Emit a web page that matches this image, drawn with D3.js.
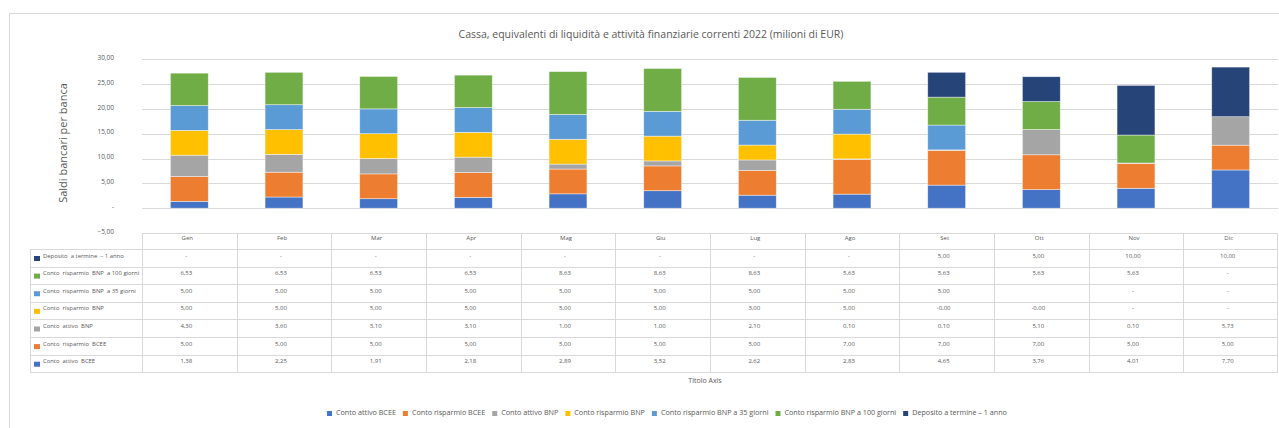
<!DOCTYPE html>
<meta charset="utf-8">
<style>
body { margin: 0; background: #fff; }
svg { font-family: "Open Sans", "Liberation Sans", sans-serif; }
.grid line { stroke: #d9d9d9; shape-rendering: crispEdges; }
.tbl line { stroke: #d9d9d9; shape-rendering: crispEdges; }
</style>
<body>
<script src="https://cdn.jsdelivr.net/npm/d3@7"></script>
<script>
var width = 1279, height = 428;

var months = ["Gen", "Feb", "Mar", "Apr", "Mag", "Giu", "Lug", "Ago", "Set", "Ott", "Nov", "Dic"];

var seriesNames = [
  "Conto attivo BCEE",
  "Conto risparmio BCEE",
  "Conto attivo BNP",
  "Conto risparmio BNP",
  "Conto risparmio BNP a 35 giorni",
  "Conto risparmio BNP a 100 giorni",
  "Deposito a termine \u2013 1 anno"
];
// labels as written in the data table (wider spacing)
var tableNames = [
  "Conto  attivo  BCEE",
  "Conto  risparmio  BCEE",
  "Conto  attivo  BNP",
  "Conto  risparmio  BNP",
  "Conto  risparmio  BNP  a 35 giorni",
  "Conto  risparmio  BNP  a 100 giorni",
  "Deposito  a termine  \u2013 1 anno"
];
var colors = ["#4472c4", "#ed7d31", "#a5a5a5", "#ffc000", "#5b9bd5", "#70ad47", "#264478"];

// null = "-", "" = empty cell, -0 = "-0,00"
var contoAttivoBCEE    = [1.38, 2.25, 1.91, 2.18, 2.89, 3.52, 2.62, 2.83, 4.65, 3.76, 4.01, 7.70];
var contoRisparmioBCEE = [5.00, 5.00, 5.00, 5.00, 5.00, 5.00, 5.00, 7.00, 7.00, 7.00, 5.00, 5.00];
var contoAttivoBNP     = [4.30, 3.60, 3.10, 3.10, 1.00, 1.00, 2.10, 0.10, 0.10, 5.10, 0.10, 5.73];
var contoRisparmioBNP  = [5.00, 5.00, 5.00, 5.00, 5.00, 5.00, 3.00, 5.00, -0, -0, null, null];
var risparmioBNP35     = [5.00, 5.00, 5.00, 5.00, 5.00, 5.00, 5.00, 5.00, 5.00, "", null, null];
var risparmioBNP100    = [6.53, 6.53, 6.53, 6.53, 8.63, 8.63, 8.63, 5.63, 5.63, 5.63, 5.63, null];
var depositoTermine    = [null, null, null, null, null, null, null, null, 5.00, 5.00, 10.00, 10.00];

var seriesValues = [contoAttivoBCEE, contoRisparmioBCEE, contoAttivoBNP, contoRisparmioBNP,
  risparmioBNP35, risparmioBNP100, depositoTermine];

var yTicks = [-5, 0, 5, 10, 15, 20, 25, 30];

var num = function(v) { return typeof v === "number" ? v : 0; };
var fmt = function(v) {
  if (v === "") return "";
  if (v === null) return "-";
  if (Object.is(v, -0)) return "-0,00";
  if (v === 0) return "-";
  return d3.format(".2f")(v).replace(".", ",");
};

var plotLeft = 142, plotRight = 1278;

var y = d3.scaleLinear().domain([-5, 30]).range([233, 59.3]);

var xBand = d3.scaleBand().domain(months).range([plotLeft, plotRight])
  .paddingInner(0.6).paddingOuter(0.3);
var xCol = d3.scaleBand().domain(months).range([plotLeft, plotRight]);

var svg = d3.select("body").append("svg")
  .attr("width", width).attr("height", height);

// chart frame
svg.append("path")
  .attr("d", "M9.5," + height + "V13.5H" + width)
  .attr("fill", "none").attr("stroke", "#d9d9d9");

svg.append("text")
  .attr("x", 651).attr("y", 35)
  .attr("text-anchor", "middle").attr("dominant-baseline", "middle")
  .attr("fill", "#595959").style("font-size", "10.5px")
  .text("Cassa, equivalenti di liquidit\u00e0 e attivit\u00e0 finanziarie correnti 2022 (milioni di EUR)");

// gridlines
svg.append("g").attr("class", "grid")
  .selectAll("line").data(yTicks.filter(function(d) { return d > -5; }))
  .join("line")
  .attr("x1", plotLeft).attr("x2", plotRight)
  .attr("y1", function(d) { return Math.round(y(d)) + 0.5; })
  .attr("y2", function(d) { return Math.round(y(d)) + 0.5; });

// y axis labels
var yAxis = d3.axisLeft(y).tickValues(yTicks).tickSize(0).tickPadding(0)
  .tickFormat(function(d) { return d === 0 ? "-" : d3.format(".2f")(d).replace(".", ","); });
var ya = svg.append("g").attr("transform", "translate(114,-2)").call(yAxis);
ya.select(".domain").remove();
ya.selectAll("text").attr("fill", "#595959").style("font-size", "6.5px")
  .style("font-family", "'Open Sans', sans-serif");

svg.append("text")
  .attr("transform", "translate(64,143) rotate(-90)")
  .attr("text-anchor", "middle").attr("dominant-baseline", "middle")
  .attr("fill", "#595959").style("font-size", "11px")
  .text("Saldi bancari per banca");

// stacked bars
var rows = months.map(function(m, i) {
  var o = { month: m };
  seriesNames.forEach(function(s, k) { o[s] = num(seriesValues[k][i]); });
  return o;
});
var stacked = d3.stack().keys(seriesNames)(rows);

svg.append("g").selectAll("g").data(stacked).join("g")
  .attr("fill", function(d, k) { return colors[k]; })
  .selectAll("rect").data(function(d) { return d; }).join("rect")
  .attr("x", function(d) { return xBand(d.data.month); })
  .attr("width", xBand.bandwidth())
  .attr("y", function(d) { return y(d[1]); })
  .attr("height", function(d) { return Math.max(0, y(d[0]) - y(d[1])); })
  .attr("stroke", "#fff").attr("stroke-opacity", 0.6).attr("stroke-width", 0.7);

// data table
var rowTop = 249, rowH = 17.62, headTop = 233;
var nRows = seriesNames.length;
var tblBottom = rowTop + nRows * rowH;
var tbl = svg.append("g").attr("class", "tbl");

// horizontal lines
tbl.append("line").attr("x1", plotLeft).attr("x2", plotRight)
  .attr("y1", headTop + 0.5).attr("y2", headTop + 0.5);
d3.range(nRows + 1).forEach(function(r) {
  var yy = Math.round(rowTop + r * rowH) + 0.5;
  tbl.append("line").attr("x1", 30).attr("x2", plotRight).attr("y1", yy).attr("y2", yy);
});
// vertical lines
tbl.append("line").attr("x1", 30.5).attr("x2", 30.5).attr("y1", rowTop).attr("y2", tblBottom);
months.concat(["end"]).forEach(function(m, i) {
  var xx = Math.round(plotLeft + i * xCol.step()) + 0.5;
  if (i === months.length) xx = plotRight - 0.5;
  tbl.append("line").attr("x1", xx).attr("x2", xx).attr("y1", headTop).attr("y2", tblBottom);
});

// month headers
tbl.selectAll(".mh").data(months).join("text").attr("class", "mh")
  .attr("x", function(d) { return xCol(d) + xCol.bandwidth() / 2 - 2; })
  .attr("y", headTop + 5.5)
  .attr("text-anchor", "middle").attr("dominant-baseline", "middle")
  .attr("fill", "#595959").style("font-size", "6px")
  .text(function(d) { return d; });

// table rows: top row is last series
var order = d3.range(nRows).reverse();
order.forEach(function(k, r) {
  var ty = rowTop + r * rowH + 7;
  tbl.append("rect").attr("x", 34).attr("y", ty).attr("width", 6).attr("height", 5)
    .attr("fill", colors[k]);
  tbl.append("text").attr("x", 43).attr("y", ty)
    .attr("dominant-baseline", "middle").attr("fill", "#595959")
    .style("font-size", "5.9px").style("white-space", "pre").attr("xml:space", "preserve")
    .text(tableNames[k]);
  tbl.selectAll(".v" + k).data(seriesValues[k]).join("text").attr("class", "v" + k)
    .attr("x", function(d, i) { return xCol(months[i]) + xCol.bandwidth() / 2 - 3; })
    .attr("y", ty)
    .attr("text-anchor", "middle").attr("dominant-baseline", "middle")
    .attr("fill", "#595959").style("font-size", "6px")
    .text(function(d) { return fmt(d); });
});

svg.append("text")
  .attr("x", 705).attr("y", 381)
  .attr("text-anchor", "middle").attr("dominant-baseline", "middle")
  .attr("fill", "#595959").style("font-size", "7px")
  .text("Titolo Axis");

// legend
var legend = svg.append("g");
var lx = 0;
var items = legend.selectAll("g").data(seriesNames).join("g");
items.append("rect").attr("y", -2).attr("width", 5).attr("height", 5)
  .attr("fill", function(d, k) { return colors[k]; });
items.append("text").attr("x", 9).attr("y", 0)
  .attr("dominant-baseline", "middle").attr("fill", "#595959")
  .style("font-size", "7.2px")
  .text(function(d) { return d; });
items.each(function() {
  var g = d3.select(this);
  g.attr("transform", "translate(" + lx + ",0)");
  lx += 9 + g.select("text").node().getComputedTextLength() + 7;
});
legend.attr("transform", "translate(327,413)");
</script>
</body>
